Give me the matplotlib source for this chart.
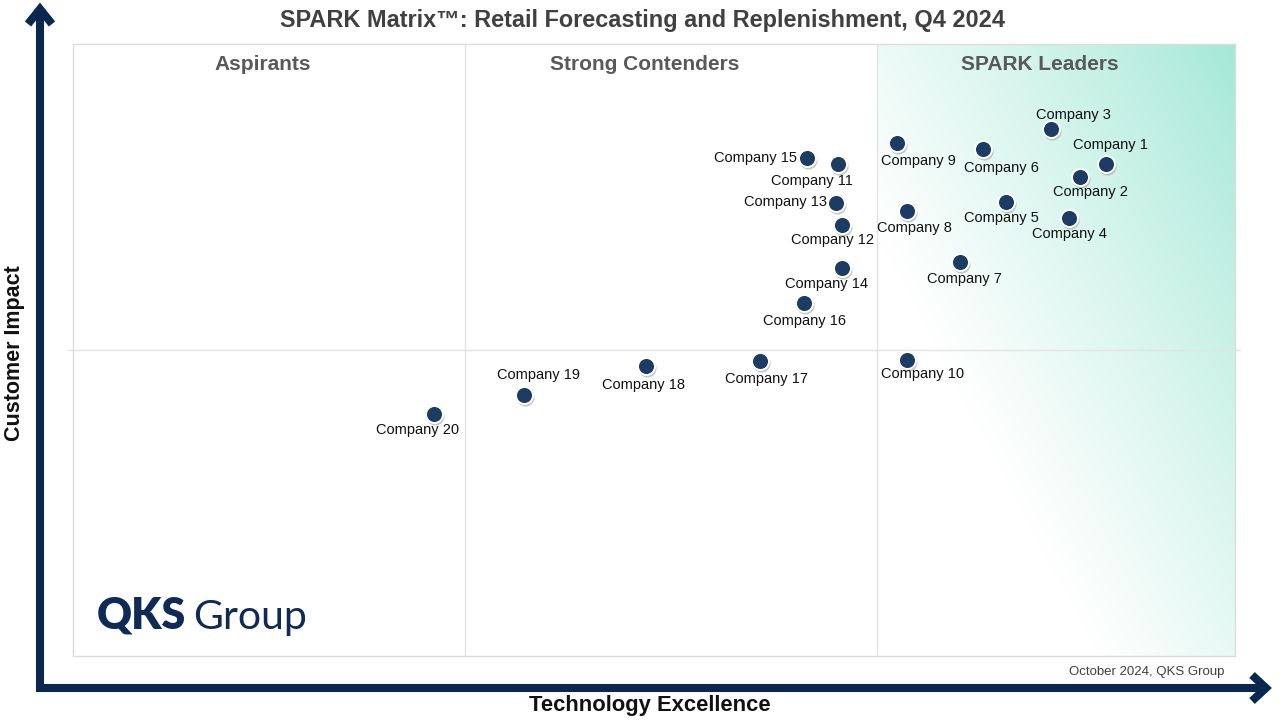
import numpy as np
import matplotlib
matplotlib.use("Agg")
import matplotlib.pyplot as plt
from matplotlib.colors import to_rgb
from matplotlib.lines import Line2D
from matplotlib.transforms import offset_copy

# ---------------- data ----------------
companies = ["Company 1", "Company 2", "Company 3", "Company 4", "Company 5",
             "Company 6", "Company 7", "Company 8", "Company 9", "Company 10",
             "Company 11", "Company 12", "Company 13", "Company 14", "Company 15",
             "Company 16", "Company 17", "Company 18", "Company 19", "Company 20"]
tech_excellence = [88.9, 86.7, 84.2, 85.7, 80.3,
                   78.3, 76.3, 71.8, 70.9, 71.8,
                   65.8, 66.2, 65.7, 66.2, 63.2,
                   62.9, 59.1, 49.3, 38.8, 31.1]
customer_impact = [80.4, 78.3, 86.1, 71.6, 74.2,
                   82.8, 64.4, 72.7, 83.8, 48.4,
                   80.4, 70.4, 74.0, 63.4, 81.4,
                   57.7, 48.2, 47.4, 42.6, 39.5]
quadrant_names = ["Aspirants", "Strong Contenders", "SPARK Leaders"]
quadrant_label_x = [16.35, 49.2, 83.2]
x_splits = [33.7, 69.2]
y_split = 50.0

# label offsets in pixels (dx, dy up positive), and alignment
label_pos = {
    "Company 1": (4, 19, "center"), "Company 2": (10, -15, "center"),
    "Company 3": (22, 14, "center"), "Company 4": (1, -16, "center"),
    "Company 5": (-5, -16, "center"), "Company 6": (19, -19, "center"),
    "Company 7": (5, -17, "center"), "Company 8": (7, -17, "center"),
    "Company 9": (22, -18, "center"), "Company 10": (15, -14, "center"),
    "Company 11": (-26, -17, "center"), "Company 12": (-10, -15, "center"),
    "Company 13": (-9, 1, "right"), "Company 14": (-16, -16, "center"),
    "Company 15": (-10, 0, "right"), "Company 16": (1, -18, "center"),
    "Company 17": (7, -18, "center"), "Company 18": (-2, -19, "center"),
    "Company 19": (15, 20, "center"), "Company 20": (-17, -16, "center"),
}

W, H = 1280, 720
fig = plt.figure(figsize=(12.8, 7.2), dpi=100)
fig.patch.set_facecolor("white")

ax_l, ax_r, ax_t, ax_b = 73, 1235, 44, 656
ax = fig.add_axes([ax_l / W, 1 - ax_b / H, (ax_r - ax_l) / W, (ax_b - ax_t) / H])
ax.set_xlim(0, 100)
ax.set_ylim(0, 100)
ax.set_xticks([])
ax.set_yticks([])
for s in ax.spines.values():
    s.set_color("#dcdcdc")
    s.set_linewidth(1.0)

# gradient in the leaders column
teal = np.array(to_rgb("#a3e8d5"))
white = np.array([1.0, 1.0, 1.0])
nx, ny = 300, 500
xs = np.linspace(0, 1, nx)  # 0 at left edge of column
ys = np.linspace(0, 1, ny)  # 0 at top
U = 1 - xs[None, :]
V = ys[:, None]
s = np.clip((U * 1.0 + V * 0.9) / 1.28, 0, 1)
t = s ** 0.85
img = teal[None, None, :] * (1 - t[..., None]) + white[None, None, :] * t[..., None]
ax.imshow(img, extent=[x_splits[1], 100, 0, 100], origin="upper",
          aspect="auto", zorder=0, interpolation="bilinear")

# quadrant lines
for xv in x_splits:
    ax.axvline(xv, color="#e3e3e3", lw=1.0, zorder=1)
ax.plot([-0.4, 100.4], [y_split, y_split], color="#e3e3e3", lw=1.0, zorder=1,
        clip_on=False)

# quadrant titles
for xq, name in zip(quadrant_label_x, quadrant_names):
    ax.text(xq, 96.7, name, ha="center", va="center",
            fontsize=15, fontweight="bold", color="#595959",
            family="Liberation Sans", zorder=3)

# points
shadow_tr = offset_copy(ax.transData, fig=fig, x=1.0, y=-2.0, units="dots")
ax.scatter(tech_excellence, customer_impact, s=170, color="#9a9a9a", alpha=0.55,
           linewidths=0, transform=shadow_tr, zorder=4)
ax.scatter(tech_excellence, customer_impact, s=150, color="#1d3c64",
           edgecolors="white", linewidths=1.4, zorder=5)

for name, xv, yv in zip(companies, tech_excellence, customer_impact):
    dx, dy, ha = label_pos[name]
    ax.annotate(name, (xv, yv), xytext=(dx * 0.72, dy * 0.72),
                textcoords="offset points", ha=ha, va="center",
                fontsize=10.5, color="#111111", family="Liberation Sans", zorder=6)

# overlay for decorations in pixel coordinates
ov = fig.add_axes([0, 0, 1, 1], facecolor="none")
ov.set_xlim(0, W)
ov.set_ylim(H, 0)
ov.axis("off")
navy = "#0b2750"
lw = 5.8
ov.add_line(Line2D([40, 40], [692, 10], color=navy, lw=lw, solid_capstyle="butt"))
ov.add_line(Line2D([28, 40, 52], [24, 9, 24], color=navy, lw=lw,
                   solid_joinstyle="miter", solid_capstyle="butt"))
ov.add_line(Line2D([36, 1265], [688, 688], color=navy, lw=lw, solid_capstyle="butt"))
ov.add_line(Line2D([1252, 1266, 1252], [675, 688, 701], color=navy, lw=lw,
                   solid_joinstyle="miter", solid_capstyle="butt"))

# title
ov.text(643, 20, "SPARK Matrix\u2122: Retail Forecasting and Replenishment, Q4 2024",
        ha="center", va="center", fontsize=16.9, fontweight="bold",
        color="#404040", family="Liberation Sans")
# axis titles
ov.text(15, 353, "Customer Impact", rotation=90, ha="center", va="center",
        fontsize=15.5, fontweight="bold", color="#111111", family="Liberation Sans")
ov.text(650, 705, "Technology Excellence", ha="center", va="center",
        fontsize=15.8, fontweight="bold", color="#111111", family="Liberation Sans")
ov.text(1224, 672, "October 2024, QKS Group", ha="right", va="center",
        fontsize=9.5, color="#404040", family="Liberation Sans")

# logo
ov.text(97, 616, "QKS", ha="left", va="center", fontsize=31, fontweight="heavy",
        color="#0f2b55", family="Lato")
ov.text(193, 617, "Group", ha="left", va="center", fontsize=29.5,
        color="#0f2b55", family="Lato")

fig.savefig("out.png", dpi=100)
